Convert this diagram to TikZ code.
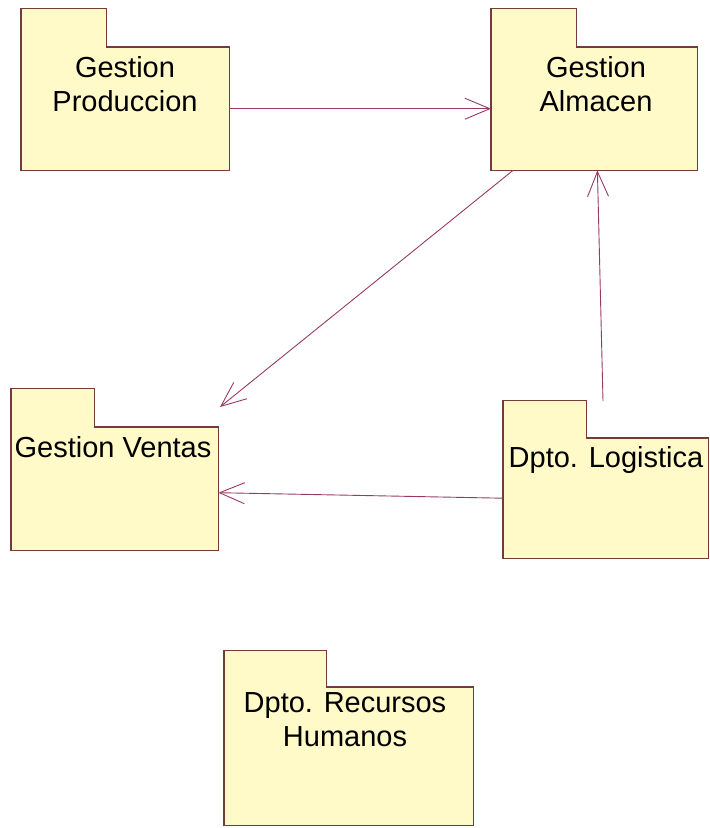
\documentclass[tikz,border=0pt]{standalone}
\usepackage{fontspec}
\setmainfont{Liberation Sans}
\usetikzlibrary{arrows.meta}
\definecolor{pkgfill}{RGB}{255,250,200}
\definecolor{pkgline}{RGB}{115,60,60}
\definecolor{deplink}{RGB}{150,58,98}

\begin{document}
\begin{tikzpicture}[x=1pt, y=-1pt,
  pkgbody/.style={fill=pkgfill, inner sep=0pt, anchor=north west},
  pkgtab/.style={fill=pkgfill, inner sep=0pt, anchor=south west},
  pkgedge/.style={draw=pkgline, line width=1.3pt},
  pkgname/.style={anchor=north, inner sep=0pt, align=center, font=\fontsize{29}{34}\selectfont},
  deparrow/.style={draw=deplink, line width=0.9pt, -{Straight Barb[length=25pt, width=21pt]}}]
  \useasboundingbox (0,0) rectangle (710,828);
  % Gestion Produccion
  \node[pkgbody, minimum width=208pt, minimum height=123pt] (prod) at (21,47) {};
  \node[pkgtab, minimum width=85pt, minimum height=38pt] (prodtab) at (prod.north west) {};
  \draw[pkgedge] (prod.south west) |- (prodtab.north east) -- (prodtab.south east) -| (prod.south east) -- cycle;
  \node[pkgname] (prodname) at (125,56) {Gestion\\Produccion};
  % Gestion Almacen
  \node[pkgbody, minimum width=206pt, minimum height=123pt] (alm) at (491,47) {};
  \node[pkgtab, minimum width=85pt, minimum height=38pt] (almtab) at (alm.north west) {};
  \draw[pkgedge] (alm.south west) |- (almtab.north east) -- (almtab.south east) -| (alm.south east) -- cycle;
  \node[pkgname] (almname) at (596,56) {Gestion\\Almacen};
  % Gestion Ventas
  \node[pkgbody, minimum width=207pt, minimum height=123pt] (ventas) at (11,427) {};
  \node[pkgtab, minimum width=83pt, minimum height=38pt] (ventastab) at (ventas.north west) {};
  \draw[pkgedge] (ventas.south west) |- (ventastab.north east) -- (ventastab.south east) -| (ventas.south east) -- cycle;
  \node[pkgname] (ventasname) at (113,436) {Gestion Ventas};
  % Dpto. Logistica
  \node[pkgbody, minimum width=205pt, minimum height=120pt] (log) at (503,438) {};
  \node[pkgtab, minimum width=83pt, minimum height=37pt] (logtab) at (log.north west) {};
  \draw[pkgedge] (log.south west) |- (logtab.north east) -- (logtab.south east) -| (log.south east) -- cycle;
  \node[pkgname] (logname) at (606,446) {Dpto. Logistica};
  % Dpto. Recursos Humanos
  \node[pkgbody, minimum width=249pt, minimum height=138pt] (rrhh) at (224,687) {};
  \node[pkgtab, minimum width=102pt, minimum height=36pt] (rrhhtab) at (rrhh.north west) {};
  \draw[pkgedge] (rrhh.south west) |- (rrhhtab.north east) -- (rrhhtab.south east) -| (rrhh.south east) -- cycle;
  \node[pkgname] (rrhhname) at (345,692) {Dpto. Recursos\\Humanos};
  % dependencias
  \coordinate (ventasin) at (220,407);
  \coordinate (logtop) at (603,401);
  \draw[deparrow] (prod.east) -- (alm.west);
  \draw[deparrow] ([xshift=22pt]alm.south west) -- (ventasin);
  \draw[deparrow] (logtop) -- ([xshift=-100pt]alm.south east);
  \draw[deparrow] (log.west) -- ([yshift=-4pt]ventas.east);
\end{tikzpicture}
\end{document}
